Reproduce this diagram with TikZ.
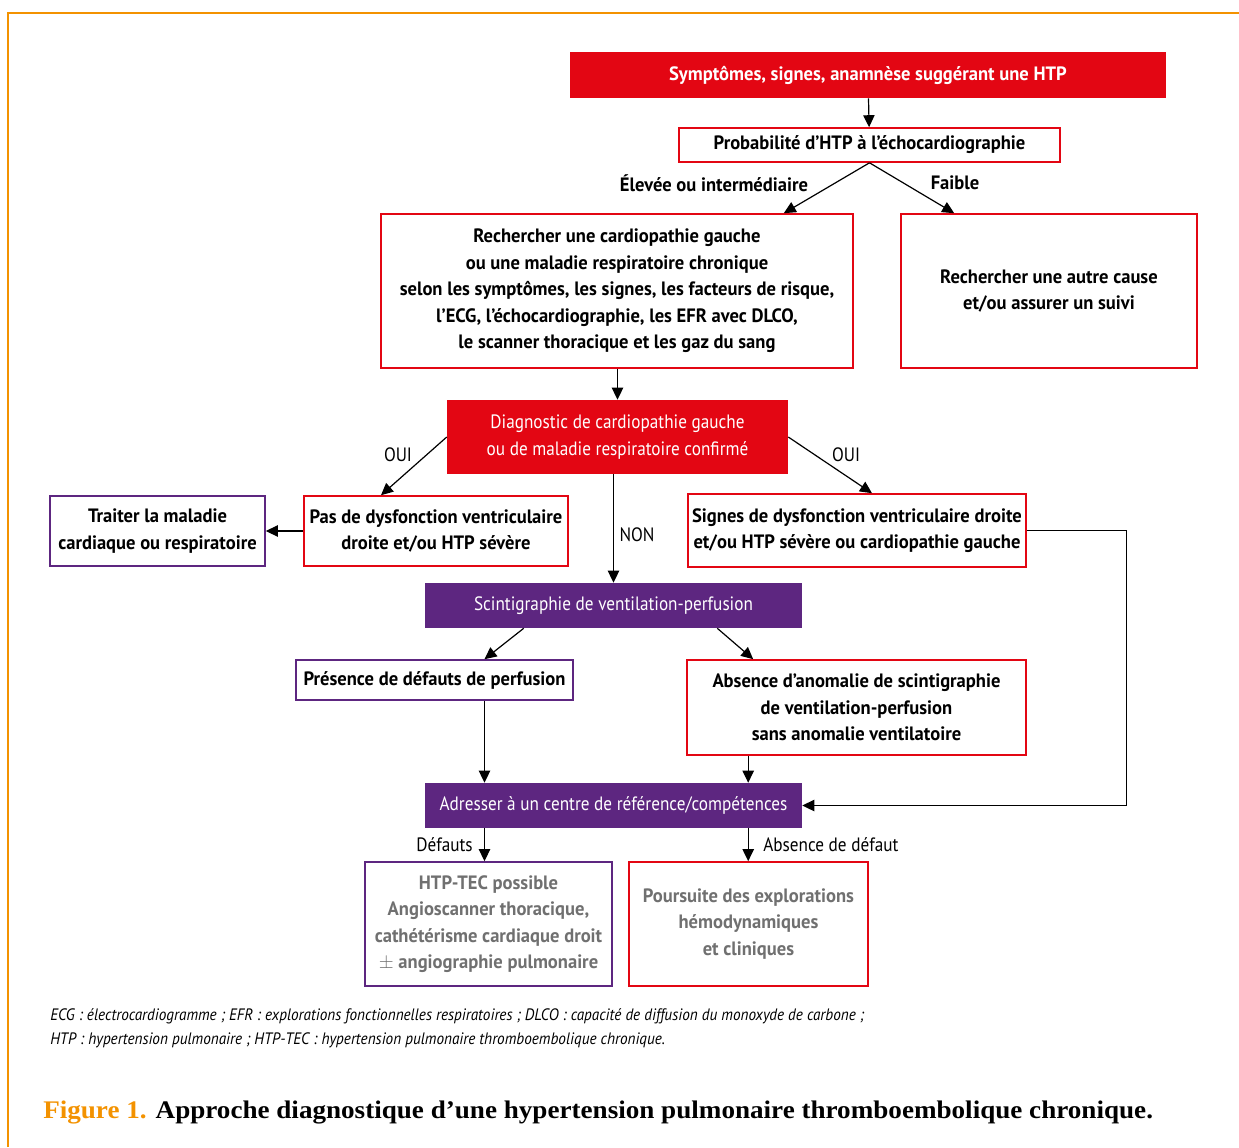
\documentclass[tikz,border=0pt]{standalone}
\usepackage{fontspec}
\setmainfont[FakeStretch=0.89,BoldFeatures={FakeStretch=0.96}]{PT Sans}
\newfontfamily\symfont[FakeStretch=0.96]{PT Sans}
\newfontfamily\notefont[FakeStretch=0.92]{PT Sans}
\newfontfamily\capfont[FakeStretch=1.07]{Liberation Serif}
\usepackage{tikz}
\usetikzlibrary{arrows.meta,positioning,calc}
\usepackage{xcolor}
\definecolor{hred}{RGB}{227,6,19}
\definecolor{hpurple}{RGB}{93,38,128}
\definecolor{horange}{RGB}{243,146,0}
\definecolor{hgray}{RGB}{112,112,112}

\begin{document}
\begin{tikzpicture}[x=0.75pt,y=-0.75pt,
  sz/.style 2 args={minimum width=#1*0.75pt,minimum height=#2*0.75pt},
  txt/.style={font=\fontsize{14.5}{19.9}\selectfont,align=center,inner sep=0pt},
  redfill/.style={txt,fill=hred,text=white},
  purpfill/.style={txt,fill=hpurple,text=white},
  redbox/.style={txt,draw=hred,line width=1.2pt,font=\fontsize{14.5}{19.9}\selectfont\bfseries},
  purpbox/.style={txt,draw=hpurple,line width=1.2pt,font=\fontsize{14.5}{19.9}\selectfont\bfseries},
  lbl/.style={font=\fontsize{14.5}{19.9}\selectfont,inner sep=0pt},
  arr/.style={line width=0.9pt,-{Triangle[length=9pt,width=8.5pt]}}
]
\useasboundingbox (0,0) rectangle (1239,1147);
\draw[horange,line width=1.5pt] (8,1147) -- (8,13) -- (1239,13);

\node[redfill,sz={596}{46},font=\symfont\bfseries\fontsize{14.5}{19.9}\selectfont] (sym) at (868,75) {Symptômes, signes, anamnèse suggérant une HTP};
\node[redbox,sz={381}{34}] (proba) at (869.5,145) {Probabilité d'HTP à l'échocardiographie};
\node[redbox,sz={472}{154}] (rech) at (617,291) {Rechercher une cardiopathie gauche\\ou une maladie respiratoire chronique\\selon les symptômes, les signes, les facteurs de risque,\\l’ECG, l’échocardiographie, les EFR avec DLCO,\\le scanner thoracique et les gaz du sang};
\node[redbox,sz={296}{154}] (autre) at (1049,291) {Rechercher une autre cause\\et/ou assurer un suivi};
\node[redfill,sz={341}{74}] (diag) at (617.5,437) {Diagnostic de cardiopathie gauche\\ou de maladie respiratoire confirmé};
\node[purpbox,sz={215}{70}] (traiter) at (157.5,531) {Traiter la maladie\\cardiaque ou respiratoire};
\node[redbox,sz={264}{70}] (pas) at (436,531) {Pas de dysfonction ventriculaire\\droite et/ou HTP sévère};
\node[redbox,sz={338}{73}] (signes) at (857,530.5) {Signes de dysfonction ventriculaire droite\\et/ou HTP sévère ou cardiopathie gauche};
\node[purpfill,sz={377}{45}] (scinti) at (613.5,605.5) {Scintigraphie de ventilation-perfusion};
\node[purpbox,sz={277}{40}] (pres) at (434.5,680) {Présence de défauts de perfusion};
\node[redbox,sz={339}{95}] (absn) at (856.5,707.5) {Absence d’anomalie de scintigraphie\\de ventilation-perfusion\\sans anomalie ventilatoire};
\node[purpfill,sz={377}{45}] (adr) at (613.5,805.5) {Adresser à un centre de référence/compétences};
\node[purpbox,sz={247}{124},text=hgray] (tec) at (488.5,924) {HTP-TEC possible\\Angioscanner thoracique,\\cathétérisme cardiaque droit\\$\pm$ angiographie pulmonaire};
\node[redbox,sz={239}{124},text=hgray] (pours) at (748.5,924) {Poursuite des explorations\\hémodynamiques\\et cliniques};

% connecteurs
\draw[arr] (sym) -- (proba);
\draw[arr] (proba.south) -- ($(rech.north east)+(-70,0)$);
\draw[arr] (proba.south) -- ($(autre.north west)+(54,0)$);
\draw[arr] (rech.south -| diag.north) -- (diag.north);
\draw[arr] (diag.west) -- ($(pas.north)+(-55,0)$);
\draw[arr] (diag.east) -- ($(signes.north)+(15,0)$);
\draw[arr] (diag.south -| scinti.north) -- (scinti.north);
\draw[arr] (pas.west) -- (traiter.east);
\draw[arr] (signes.east) -- ++(100,0) |- (adr.east);
\draw[arr] ($(scinti.south west)+(99,0)$) -- ($(pres.north)+(50,0)$);
\draw[arr] ($(scinti.south east)+(-85,0)$) -- ($(absn.north west)+(67,0)$);
\coordinate (cl) at ($(pres.south)+(50,0)$);
\coordinate (cr) at ($(absn.south west)+(62,0)$);
\foreach \c in {cl,cr}{
  \draw[arr] (\c) -- (\c |- adr.north);
}
\draw[arr] (cl |- adr.south) -- (cl |- tec.north);
\draw[arr] (cr |- adr.south) -- (cr |- pours.north);

% etiquettes
\node[lbl,font=\fontsize{14.5}{19.9}\selectfont\bfseries] (l1) at (714,183) {Élevée ou intermédiaire};
\node[lbl,font=\fontsize{14.5}{19.9}\selectfont\bfseries] (l2) at (955,183) {Faible};
\node[lbl] (l3) at (398,455) {OUI};
\node[lbl] (l4) at (846,455) {OUI};
\node[lbl] (l5) at (637,535) {NON};
\node[lbl,anchor=east] (l6) at (473,845) {Défauts};
\node[lbl,anchor=west] (l7) at (763,845) {Absence de défaut};

\node[anchor=west,inner sep=0pt,align=left,font=\notefont\itshape\fontsize{12.4}{18}\selectfont] (note) at (50,1028) {ECG : électrocardiogramme ; EFR : explorations fonctionnelles respiratoires ; DLCO : capacité de diffusion du monoxyde de carbone ;\\HTP : hypertension pulmonaire ; HTP-TEC : hypertension pulmonaire thromboembolique chronique.};
\node[anchor=west,inner sep=0pt,font=\capfont\bfseries\fontsize{19}{22}\selectfont] (cap) at (43,1112) {\textcolor{horange}{Figure 1.} Approche diagnostique d’une hypertension pulmonaire thromboembolique chronique.};
\end{tikzpicture}
\end{document}
